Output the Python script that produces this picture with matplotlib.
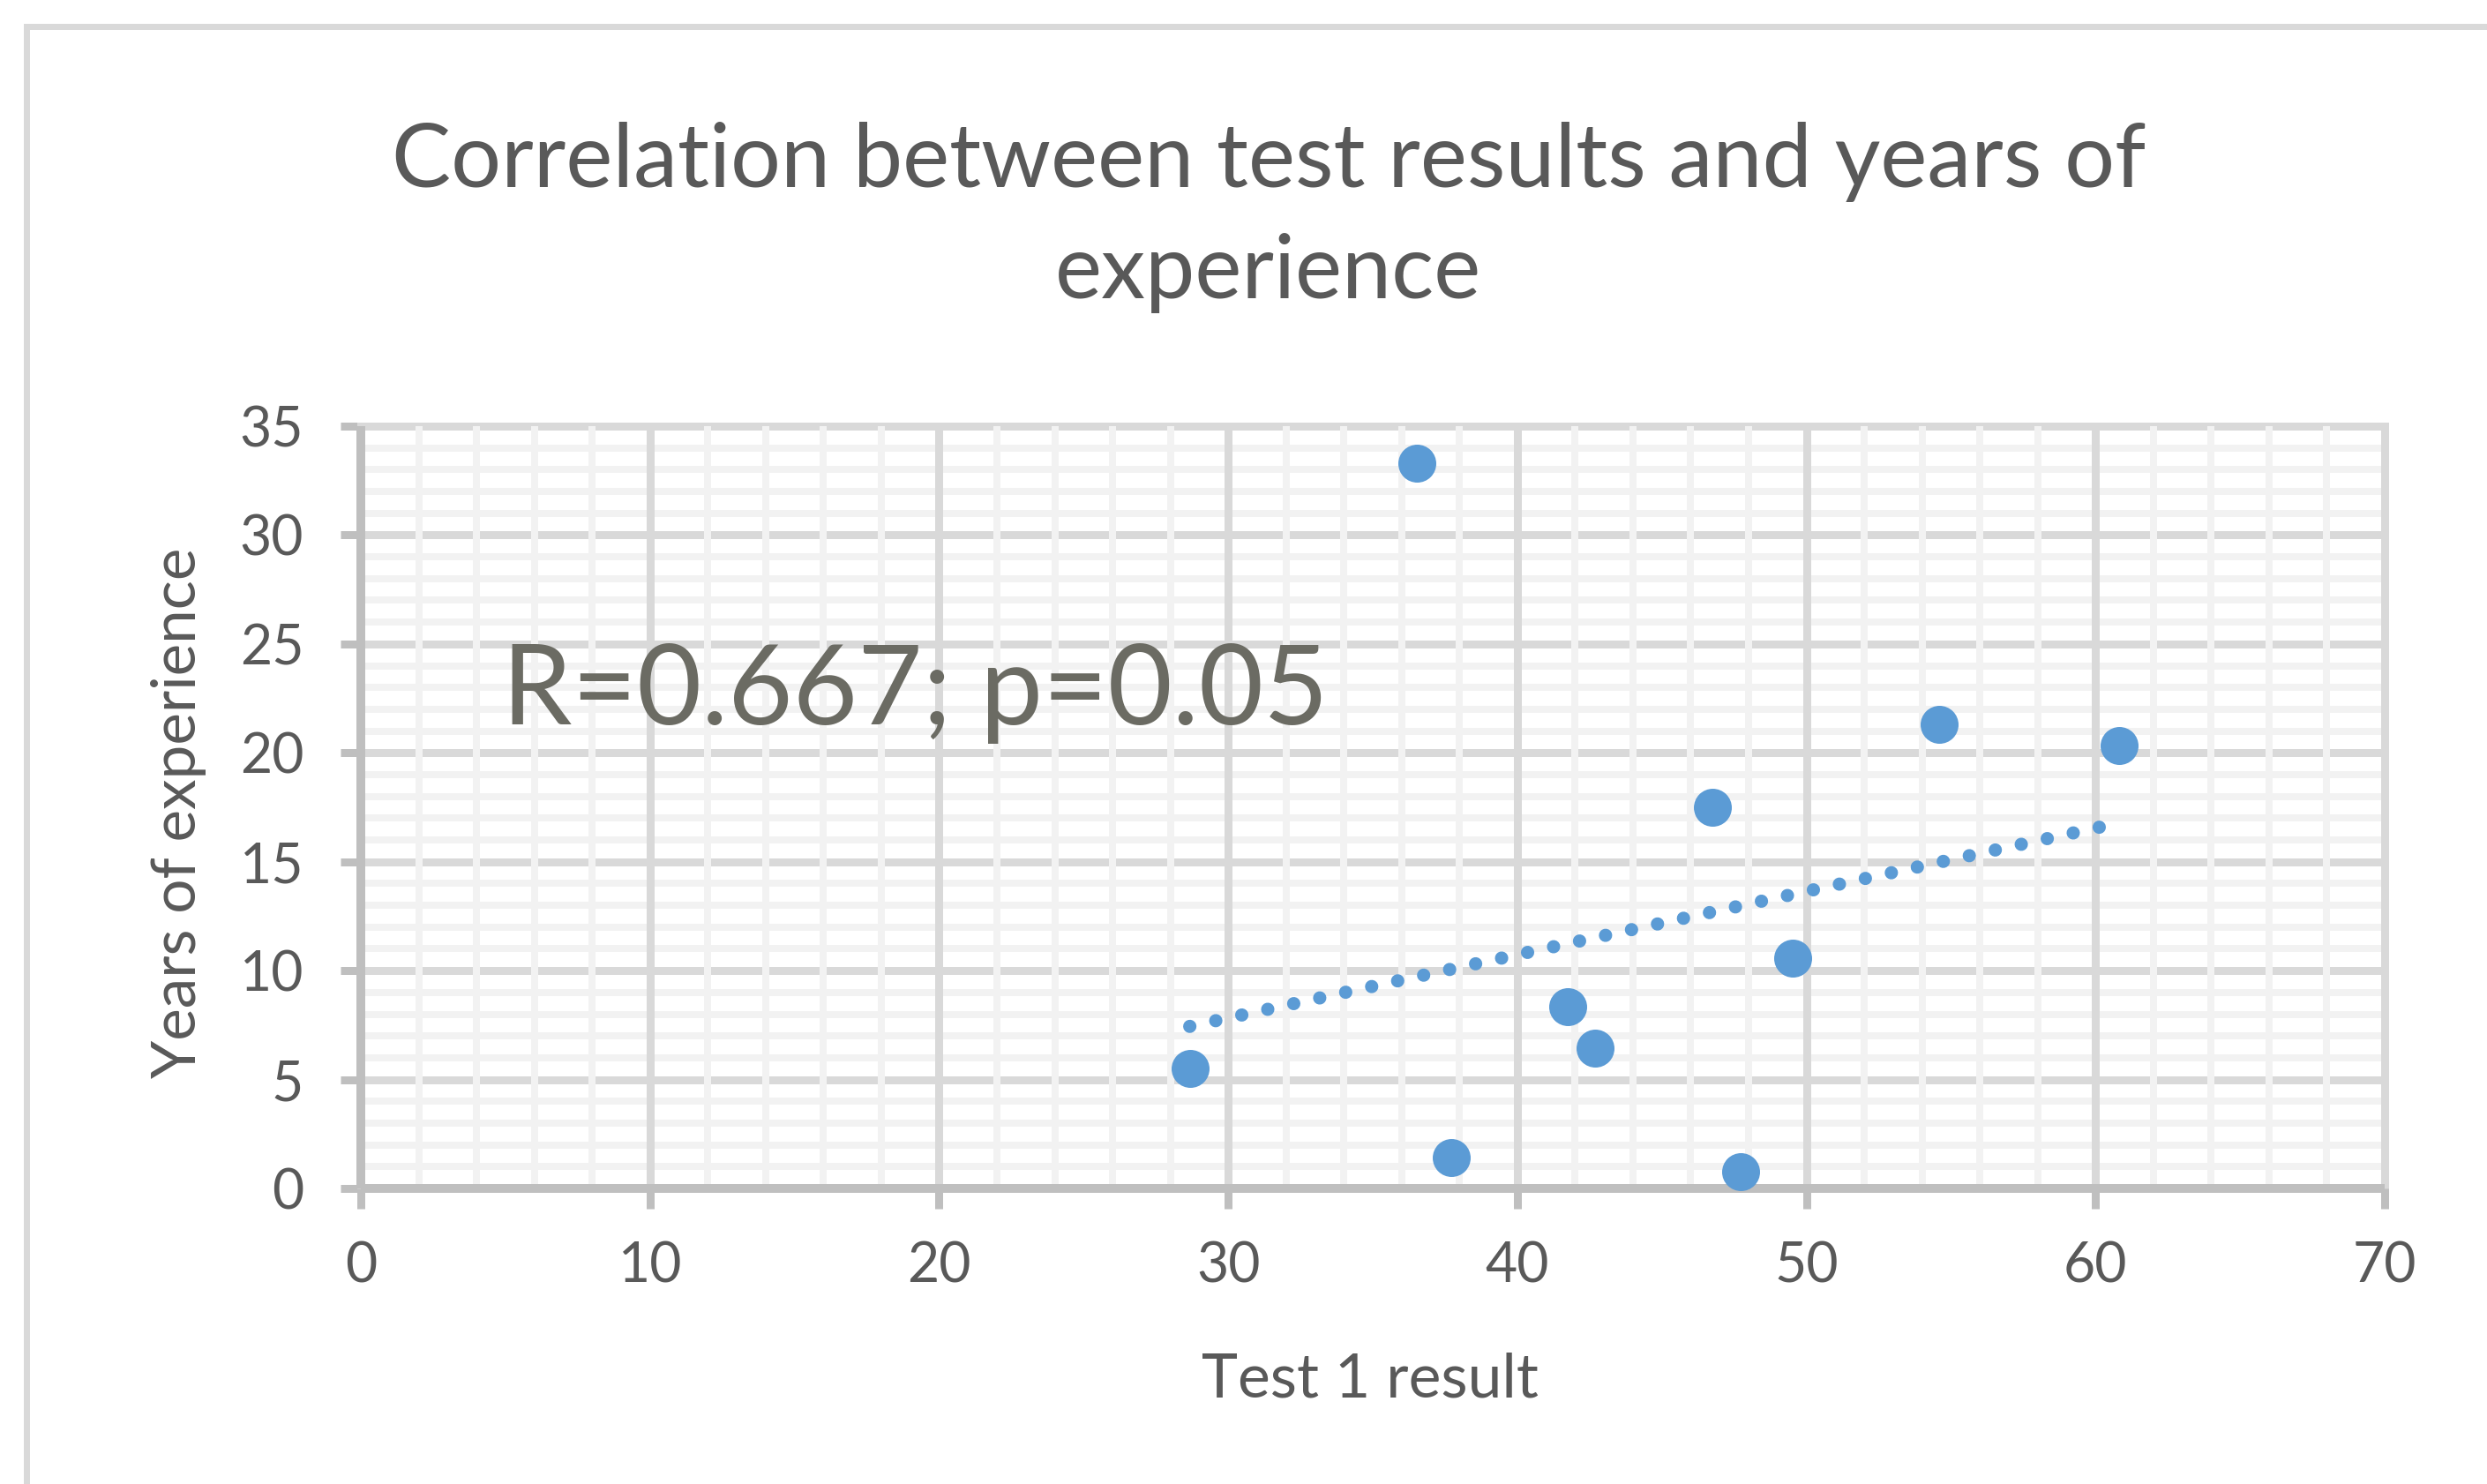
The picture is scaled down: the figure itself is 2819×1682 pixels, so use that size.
"""Scatter of test result vs years of experience, Excel-style look."""

import matplotlib

matplotlib.use("Agg")
import matplotlib.pyplot as plt
from matplotlib.lines import Line2D
from matplotlib.ticker import MultipleLocator

plt.rcParams["font.family"] = ["Lato", "DejaVu Sans"]

# --- data ---
test1_result = [28.67, 36.52, 37.71, 41.74, 42.70, 46.74, 47.71, 49.53, 54.60, 60.80]
years_experience = [5.52, 33.29, 1.40, 8.34, 6.43, 17.52, 0.78, 10.57, 21.30, 20.33]
trend_x = [28.67, 60.80]
trend_y = [7.44, 16.78]

title_lines = ["Correlation between test results and years of", "experience"]
stat_text = "R=0.667; p=0.05"
x_label = "Test 1 result"
y_label = "Years of experience"

W, H, DPI = 2819, 1682, 200
PT = 72 / DPI  # pixels -> points

BLUE = "#5B9BD5"
TEXT = "#595959"
AXIS = "#BFBFBF"
MAJOR = "#D9D9D9"
MINOR = "#F2F2F2"

fig = plt.figure(figsize=(W / DPI, H / DPI), dpi=DPI)
renderer = fig.canvas.get_renderer()


def fit_length(txt, target_px, vertical=False):
    bb = txt.get_window_extent(renderer)
    size = bb.height if vertical else bb.width
    txt.set_fontsize(txt.get_fontsize() * target_px / size)


# chart area border (runs off the right and bottom of the picture)
x0, y0 = 30 / W, 1 - 30 / H
fig.add_artist(
    Line2D([x0, x0, 1.05], [-0.05, y0, y0], transform=fig.transFigure,
           color=MAJOR, lw=7 * PT, solid_joinstyle="miter")
)

ax = fig.add_axes([409 / W, 1 - 1347 / H, 2294 / W, 864 / H])
ax.set_xlim(0, 70)
ax.set_ylim(0, 35)
ax.xaxis.set_major_locator(MultipleLocator(10))
ax.xaxis.set_minor_locator(MultipleLocator(2))
ax.yaxis.set_major_locator(MultipleLocator(5))
ax.yaxis.set_minor_locator(MultipleLocator(1))

# vertical gridlines sit over the horizontal ones
ax.yaxis.set_zorder(1.4)
ax.grid(which="major", color=MAJOR, lw=9 * PT)
ax.grid(which="minor", color=MINOR, lw=8 * PT)
for gl in ax.get_xgridlines() + ax.get_ygridlines():
    gl.set_clip_on(False)

for side in ("top", "right"):
    ax.spines[side].set_visible(False)
for side in ("left", "bottom"):
    ax.spines[side].set_color(AXIS)
    ax.spines[side].set_linewidth(10 * PT)
    ax.spines[side].set_capstyle("butt")

ax.tick_params(which="major", direction="out", length=23 * PT, width=9 * PT,
               color=AXIS, labelcolor=TEXT, labelsize=22.5)
ax.tick_params(axis="y", pad=15)
ax.tick_params(axis="x", pad=13)
ax.tick_params(which="minor", length=0)

ax.scatter(test1_result, years_experience, s=(43 * PT) ** 2, color=BLUE,
           linewidths=0, zorder=3, clip_on=False)
ax.plot(trend_x, trend_y, color=BLUE, lw=15 * PT, linestyle=(0, (0.01, 2)),
        dash_capstyle="round", zorder=2.5)

st = ax.text(4.88, 21.3, stat_text, ha="left", va="baseline", color="#6B6B63",
             fontsize=50)
fit_length(st, 937)

xl = ax.set_xlabel(x_label, color=TEXT, fontsize=25)
fit_length(xl, 381)
ax.xaxis.set_label_coords(0.4987, (1347 - 1583) / 864)
xl.set_va("baseline")

yl = ax.set_ylabel(y_label, color=TEXT, fontsize=25)
fit_length(yl, 602, vertical=True)
ax.yaxis.set_label_coords((203 - 409) / 2294, (1347 - 921) / 864)
yl.set_va("center")

t1 = fig.text(1438 / W, 1 - 212 / H, title_lines[0], ha="center",
              va="baseline", color=TEXT, fontsize=35)
fit_length(t1, 1989)
fig.text(1438 / W, 1 - 338 / H, title_lines[1], ha="center", va="baseline",
         color=TEXT, fontsize=t1.get_fontsize())

fig.savefig("out.png", dpi=DPI, facecolor="white")
